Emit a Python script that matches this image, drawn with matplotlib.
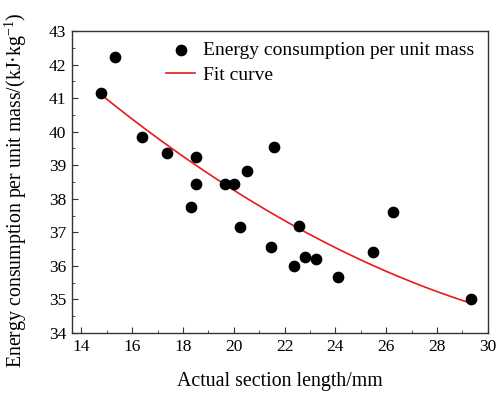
import numpy as np
import matplotlib
matplotlib.use("Agg")
import matplotlib.pyplot as plt
from matplotlib.ticker import MultipleLocator

plt.rcParams['font.family'] = ['Liberation Serif', 'DejaVu Serif']
plt.rcParams['mathtext.fontset'] = 'custom'
plt.rcParams['mathtext.rm'] = 'Liberation Serif'

length_mm = [14.78, 15.33, 16.39, 17.39, 18.52, 18.50, 19.64, 20.01, 20.54, 21.60,
             18.31, 20.23, 21.48, 22.56, 22.36, 22.81, 23.25, 24.11, 25.48, 26.26, 29.33]
energy = [41.16, 42.23, 39.85, 39.36, 39.24, 38.44, 38.44, 38.44, 38.84, 39.55,
          37.76, 37.17, 36.57, 37.20, 36.00, 36.27, 36.22, 35.68, 36.42, 37.60, 35.00]
# fit curve coefficients (quadratic, highest power first)
fit_coef = [0.01265, -0.9849, 52.895]

x = np.array(length_mm)
y = np.array(energy)
xf = np.linspace(x.min(), x.max(), 200)
yf = np.polyval(fit_coef, xf)

fig = plt.figure(figsize=(4.98, 3.94), dpi=100)
ax = fig.add_axes([72/498, 1-333/394, (487.7-72)/498, (333-31)/394])

ax.scatter(x, y, s=55, color='black', zorder=3, label='Energy consumption per unit mass')
ax.plot(xf, yf, color='#e8191b', lw=1.2, label='Fit curve', zorder=2)

ax.set_xlim(13.63, 30)
ax.set_ylim(34, 43)
ax.xaxis.set_major_locator(MultipleLocator(2))
ax.xaxis.set_minor_locator(MultipleLocator(1))
ax.yaxis.set_major_locator(MultipleLocator(1))
ax.yaxis.set_minor_locator(MultipleLocator(0.5))
ax.tick_params(which='both', direction='in', top=False, right=False, labelsize=12.5,
               color='#333333', pad=4)
ax.tick_params(which='major', length=4)
ax.tick_params(which='minor', length=2.4)
for s in ax.spines.values():
    s.set_color('#333333')
    s.set_linewidth(1.0)

ax.set_xlabel('Actual section length/mm', fontsize=14.3)
ax.xaxis.set_label_coords(0.5, -0.128)
fig.text(16/498, 1-190/394, 'Energy consumption per unit mass/(kJ·kg$^{-1}$)',
         fontsize=14.3, rotation=90, ha='center', va='center')

ax.legend(loc='upper left', bbox_to_anchor=(0.226, 0.964), frameon=False, fontsize=14,
          handlelength=1.5, borderaxespad=0, borderpad=0, labelspacing=0.33,
          handletextpad=0.4)

fig.savefig('out.png', dpi=100)
